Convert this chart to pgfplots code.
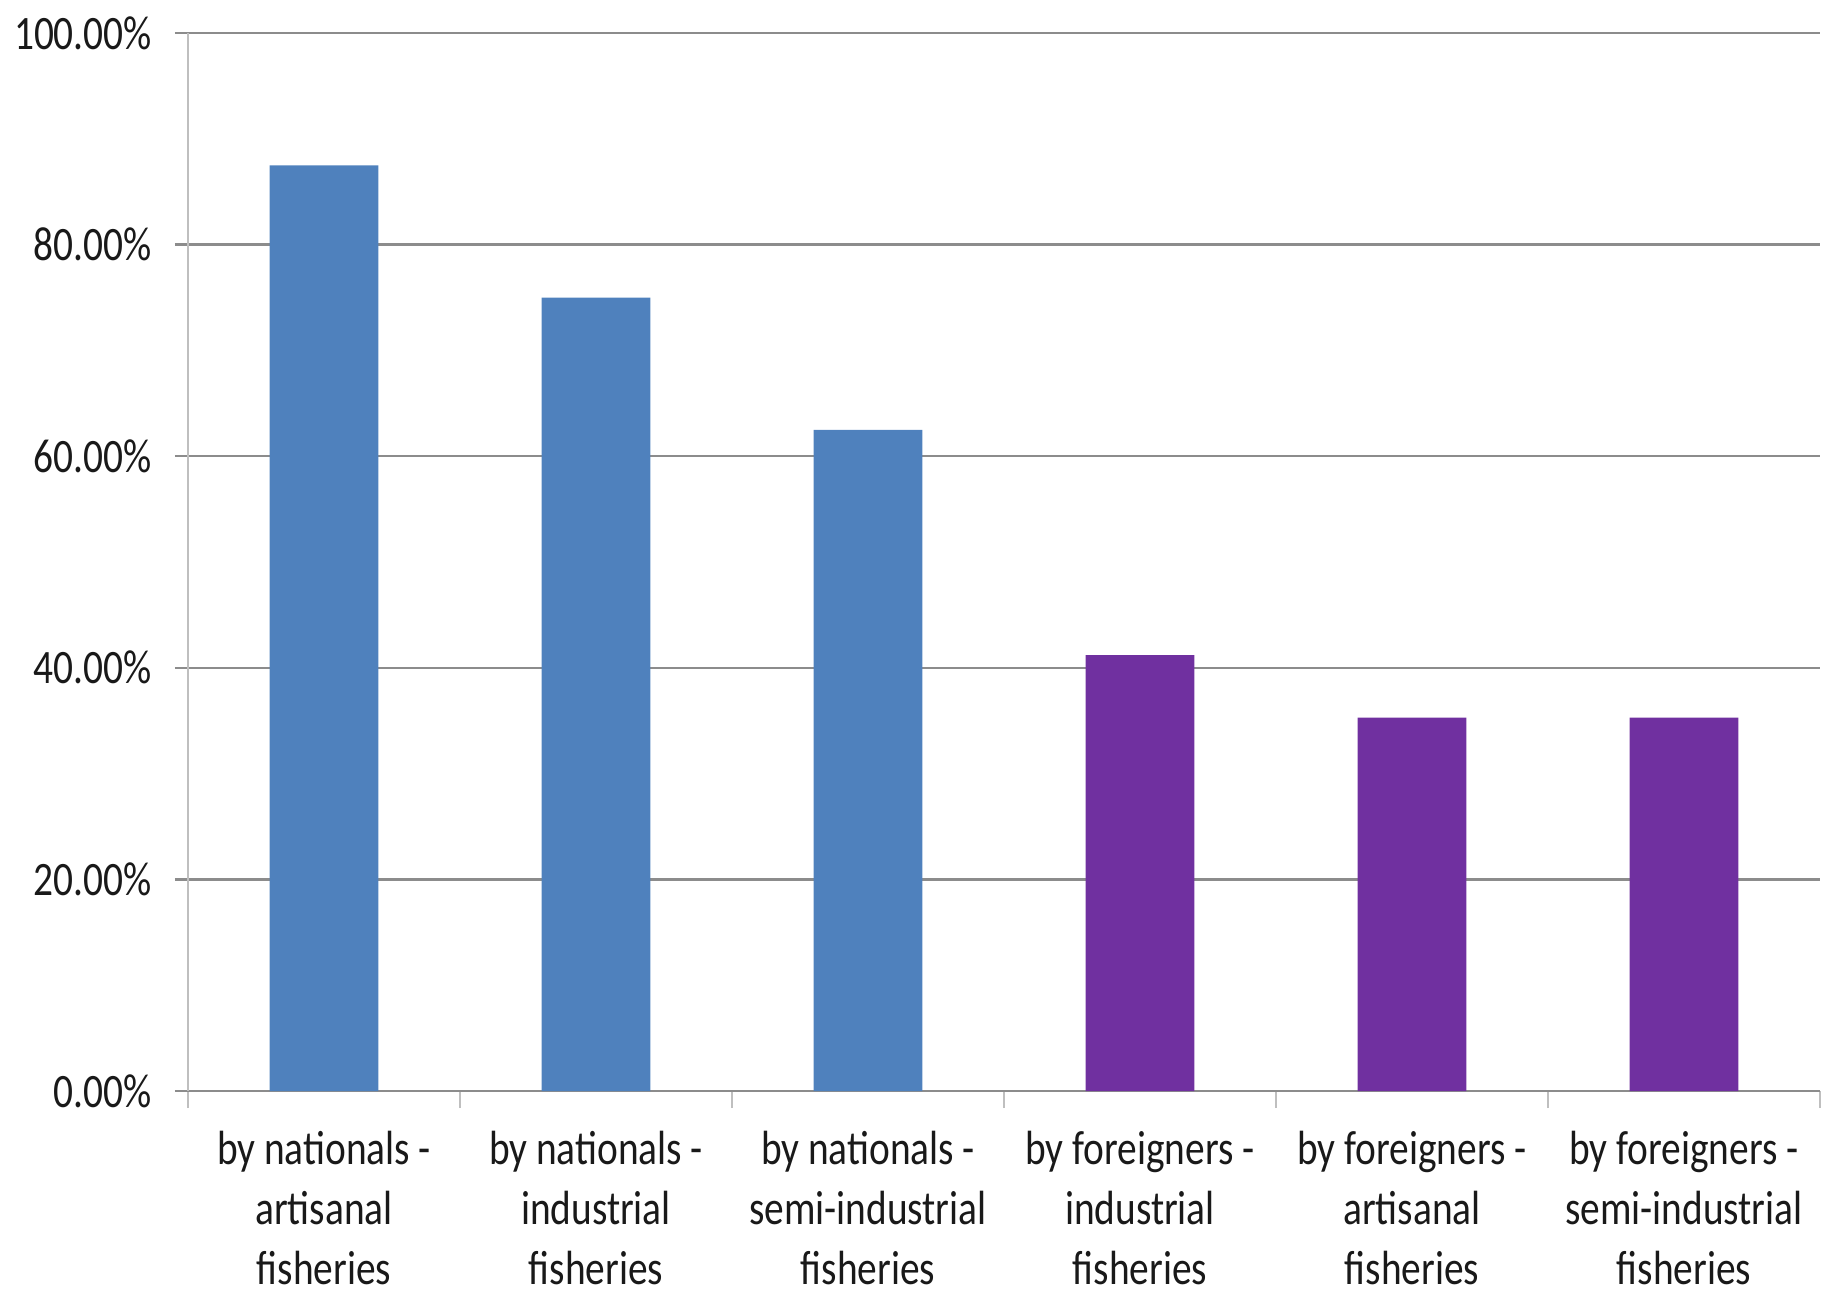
\documentclass[border=0pt]{standalone}
\usepackage{fontspec}
\setmainfont{Carlito}[FakeStretch=0.82]
\usepackage{pgfplots}
\pgfplotsset{compat=1.18}
\definecolor{natblue}{HTML}{4F81BD}
\definecolor{forpurple}{HTML}{7030A0}
\definecolor{gridgray}{HTML}{8C8C8C}
\definecolor{axisgray}{HTML}{BFBFBF}
\begin{document}
\begin{tikzpicture}
\begin{axis}[
        at={(0,0)}, anchor=south west,
        scale only axis,
        width=408pt, height=264.5pt,
        ybar, bar width=0.4,
        ymin=0, ymax=100,
        xmin=-0.5, xmax=5.5,
        axis x line*=bottom, axis y line*=left,
        x axis line style={gridgray, line width=0.6pt, -},
        y axis line style={axisgray, line width=0.6pt, -},
        ymajorgrids=true,
        major grid style={gridgray, line width=0.6pt},
        tick align=outside,
        major tick length=3.25pt,
        minor tick length=4.25pt,
        ytick={0,20,40,60,80,100},
        yticklabels={0.00\%,20.00\%,40.00\%,60.00\%,80.00\%,100.00\%},
        y tick style={gridgray, line width=0.6pt},
        xtick={0,1,2,3,4,5},
        major x tick style={draw=none},
        minor xtick={-0.5,0.5,1.5,2.5,3.5,4.5,5.5},
        minor x tick style={axisgray, line width=0.6pt},
        xticklabels={
            by nationals -\\artisanal\\fisheries,
            by nationals -\\industrial\\fisheries,
            by nationals -\\semi-industrial\\fisheries,
            by foreigners -\\industrial\\fisheries,
            by foreigners -\\artisanal\\fisheries,
            by foreigners -\\semi-industrial\\fisheries},
        /pgf/number format/assume math mode=true,
        ticklabel style={font={\fontsize{12}{15}\selectfont}, text=black!90},
        xticklabel style={align=center, yshift=-4.6pt, inner sep=2pt},
        yticklabel style={xshift=-2.25pt},
    ]
\addplot[draw=none, fill=natblue, bar shift=0pt]
    coordinates {(0,87.5) (1,75.0) (2,62.5)};
\addplot[draw=none, fill=forpurple, bar shift=0pt]
    coordinates {(3,41.2) (4,35.3) (5,35.3)};
\end{axis}
\pgfresetboundingbox
\useasboundingbox (-47pt,-52pt) rectangle (411.75pt,272.75pt);
\end{tikzpicture}
\end{document}
